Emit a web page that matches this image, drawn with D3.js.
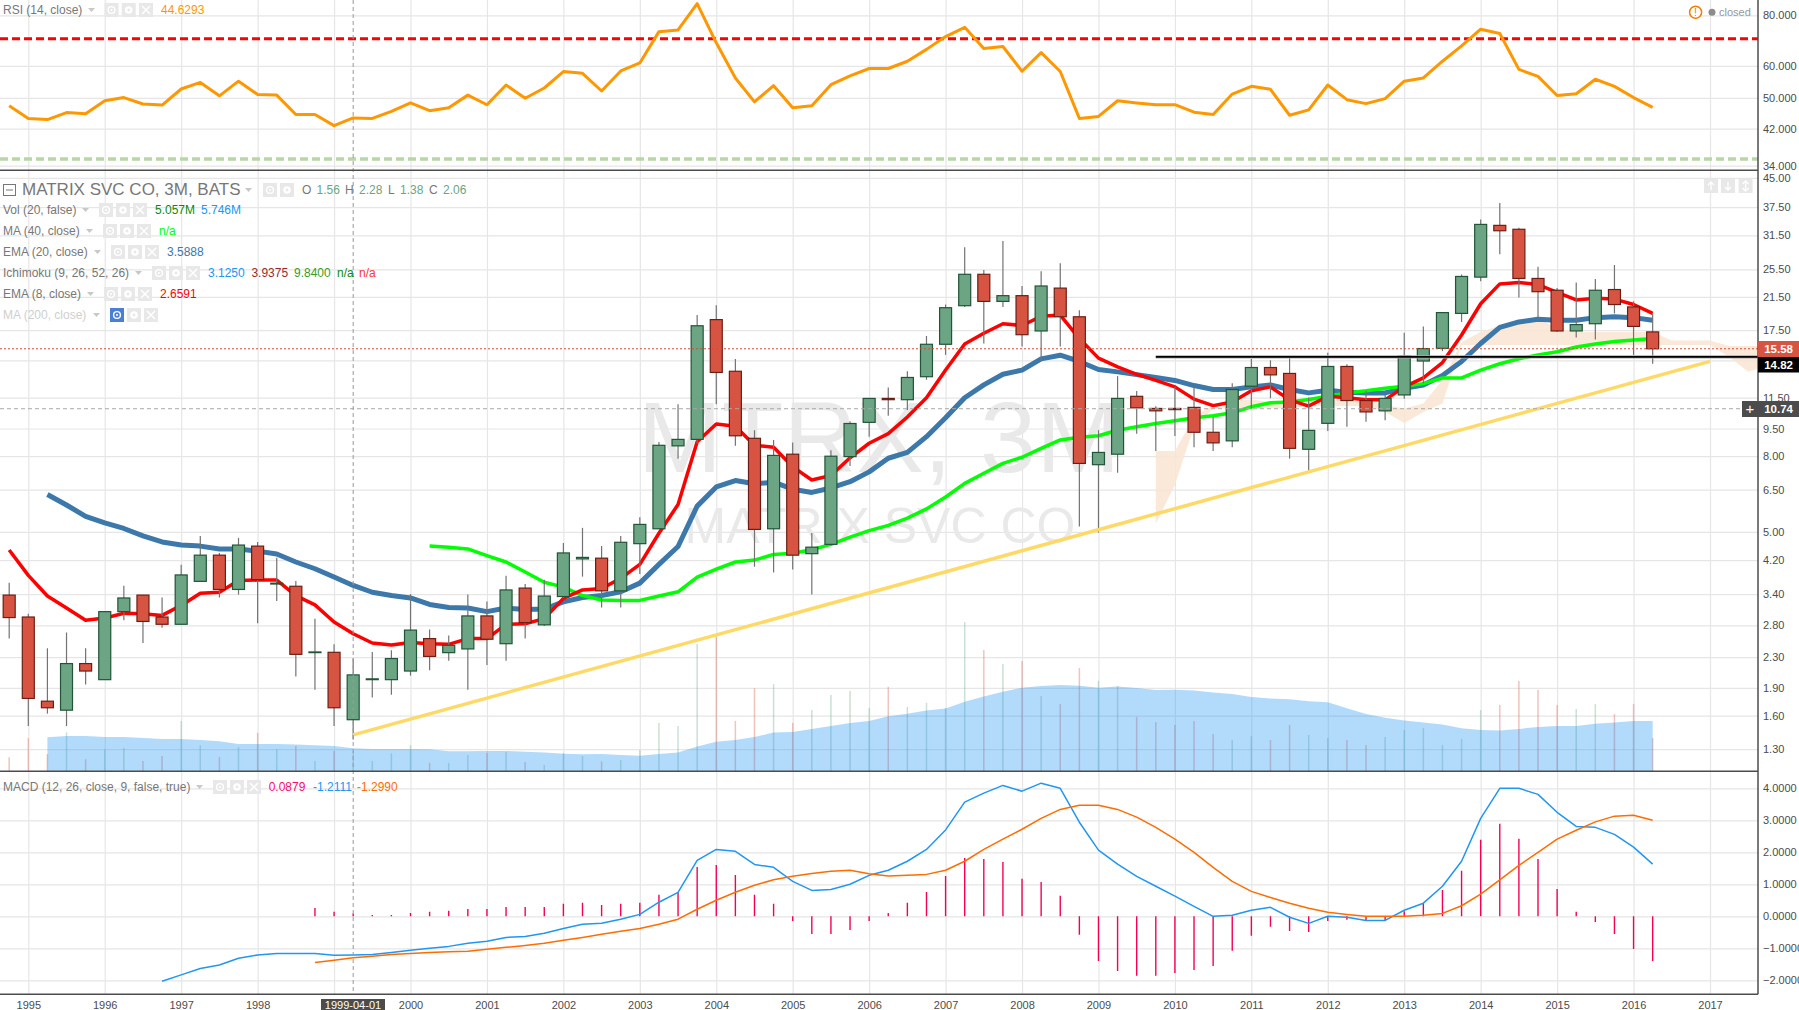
<!DOCTYPE html>
<html>
<head>
<meta charset="utf-8">
<title>MTRX 3M</title>
<script src="https://cdn.jsdelivr.net/npm/d3@7"></script>
<style>
  html, body { margin: 0; padding: 0; background: #fff; overflow: hidden; }
  text { font-family: "Liberation Sans", Arial, sans-serif; }
</style>
</head>
<body>
<svg id="chart" width="1799" height="1010"></svg>
<script>
// quarterly bars, first one is 1994 Q4
const firstQuarter = 1994.75;

const opens = [
  3.38, 2.95, 1.75, 1.655, 2.21, 2.00, 3.05, 3.38, 2.95, 2.82,
  3.68, 4.33, 3.50, 4.58, 3.62, 3.57, 2.365, 2.37, 1.56, 2.00,
  2.00, 2.11, 2.58, 2.365, 2.42, 2.97, 2.50, 3.53, 2.81, 3.35,
  4.23, 4.25, 3.47, 4.65, 5.10, 8.53, 8.88, 18.67, 13.55, 8.94,
  5.10, 8.10, 4.37, 4.63, 7.98, 9.87, 11.45, 11.36, 13.10, 16.02,
  20.35, 24.73, 20.90, 21.66, 17.40, 22.70, 19.00, 7.59, 8.10, 11.60,
  10.76, 10.76, 10.83, 9.28, 8.80, 12.35, 13.87, 13.37, 8.35, 9.81,
  13.96, 11.30, 10.60, 11.70, 14.44, 15.62, 19.40, 24.30, 33.50, 32.70,
  24.10, 22.40, 17.40, 18.20, 22.50, 20.20, 17.30
];
const highs = [
  3.65, 3.01, 2.43, 2.68, 2.43, 3.05, 3.58, 3.38, 3.33, 4.08,
  4.88, 4.39, 4.82, 4.70, 4.26, 3.69, 2.92, 2.49, 2.28, 2.375,
  2.40, 3.40, 2.73, 2.63, 3.39, 3.25, 3.81, 3.62, 3.72, 4.67,
  5.13, 4.58, 4.88, 5.48, 8.74, 11.05, 19.20, 20.40, 14.63, 9.40,
  8.85, 8.71, 4.97, 8.30, 9.93, 11.45, 12.26, 13.55, 16.87, 20.50,
  29.27, 25.40, 30.40, 23.00, 25.20, 26.50, 19.80, 9.40, 13.15, 11.98,
  10.90, 12.30, 12.35, 10.20, 12.57, 14.63, 14.50, 14.70, 11.52, 15.20,
  14.15, 11.98, 11.70, 17.20, 17.90, 19.50, 24.70, 34.76, 38.50, 33.00,
  25.90, 22.70, 23.50, 24.00, 26.20, 20.90, 19.40
];
const lows = [
  2.58, 1.50, 1.62, 1.50, 1.94, 2.00, 2.89, 2.51, 2.76, 2.82,
  3.68, 3.33, 3.39, 2.84, 3.26, 2.04, 1.88, 1.50, 1.38, 1.79,
  1.82, 2.05, 2.12, 2.25, 1.88, 2.19, 2.25, 2.58, 2.79, 3.32,
  3.79, 3.13, 3.13, 3.85, 5.10, 7.88, 8.65, 11.05, 8.53, 4.03,
  3.89, 3.96, 3.39, 4.60, 7.53, 9.03, 10.28, 10.65, 12.85, 15.00,
  20.20, 16.10, 20.20, 15.80, 14.44, 15.80, 5.17, 4.98, 7.22, 9.20,
  8.26, 9.07, 8.46, 8.26, 8.46, 10.76, 11.47, 7.88, 7.32, 9.36,
  9.60, 9.90, 10.00, 11.43, 12.57, 15.35, 18.40, 23.70, 28.00, 21.40,
  18.90, 17.30, 16.70, 16.50, 19.40, 15.00, 14.20
];
const closes = [
  2.94, 1.78, 1.68, 2.21, 2.11, 3.05, 3.32, 2.87, 2.82, 3.83,
  4.33, 3.50, 4.61, 3.72, 3.64, 2.34, 2.375, 1.68, 2.06, 2.01,
  2.28, 2.72, 2.31, 2.475, 2.97, 2.57, 3.49, 2.85, 3.36, 4.39,
  4.27, 3.47, 4.69, 5.24, 8.56, 8.88, 17.97, 13.45, 9.08, 5.08,
  8.04, 4.33, 4.55, 8.00, 9.80, 11.45, 11.36, 13.04, 16.02, 20.10,
  24.73, 20.90, 21.66, 17.00, 23.00, 19.00, 7.65, 8.19, 11.45, 10.80,
  10.60, 10.68, 9.28, 8.69, 12.10, 13.87, 13.25, 8.40, 9.39, 13.96,
  11.30, 10.53, 11.45, 14.90, 15.60, 19.50, 24.40, 33.70, 32.40, 24.10,
  22.20, 17.40, 18.10, 22.40, 20.50, 17.90, 15.58
];

// volume in millions
const volumes = [
  3.5, 8.3, 4.3, 9.75, 3.0, 5.5, 5.8, 2.6, 3.8, 12.6,
  6.5, 3.6, 6.1, 9.6, 5.5, 6.3, 2.6, 5.1, 5.057, 2.6,
  4.5, 6.5, 2.1, 2.1, 4.1, 4.6, 4.8, 2.3, 1.6, 4.6,
  3.8, 2.5, 2.8, 5.3, 12.1, 11.3, 31.8, 33.7, 12.6, 20.8,
  21.8, 12.1, 15.3, 19.1, 20.1, 15.8, 21.1, 16.1, 17.1, 15.8,
  37.3, 30.3, 26.8, 27.6, 18.8, 16.8, 25.8, 22.6, 21.3, 13.6,
  12.3, 11.6, 12.6, 9.3, 7.8, 8.8, 7.8, 11.6, 9.1, 8.3,
  7.8, 6.6, 8.6, 10.3, 10.8, 6.6, 8.1, 15.3, 16.6, 22.6,
  20.3, 16.6, 15.6, 16.8, 14.3, 16.8, 8.3
];
const volMaStart = 2;
const volMa = [
  8.5, 8.8, 8.8, 8.6, 8.6, 8.3, 8.1, 8.1, 7.8, 7.5,
  6.8, 6.8, 6.8, 6.7, 6.5, 6.3, 5.746, 5.6, 5.6, 5.6,
  5.5, 5.0, 5.0, 5.1, 5.1, 4.9, 4.7, 4.4, 4.25, 4.3,
  4.1, 3.9, 4.3, 4.7, 6.2, 7.4, 7.8, 8.6, 9.7, 9.8,
  10.6, 11.3, 12.1, 12.6, 13.75, 14.4, 15.2, 15.7, 17.4, 18.7,
  19.9, 20.9, 21.3, 21.6, 21.4, 20.9, 21.2, 20.8, 20.3, 20.4,
  20.2, 19.7, 19.3, 18.6, 18.2, 18.0, 17.5, 17.25, 15.75, 14.3,
  13.4, 12.7, 12.2, 11.7, 10.75, 10.3, 10.2, 10.6, 11.1, 11.3,
  11.3, 11.9, 12.2, 12.6, 12.6
];

const ema8 = [
  4.47, 3.82, 3.36, 3.12, 2.89, 2.93, 3.02, 3.01, 2.98, 3.17,
  3.42, 3.44, 3.70, 3.71, 3.71, 3.37, 3.18, 2.86, 2.6591, 2.51,
  2.48, 2.52, 2.50, 2.49, 2.58, 2.58, 2.82, 2.83, 2.92, 3.31,
  3.49, 3.52, 3.75, 4.09, 4.96, 5.93, 8.75, 9.77, 9.63, 8.56,
  8.46, 7.49, 6.90, 7.10, 7.92, 8.67, 9.20, 10.2, 11.5, 13.65,
  16.05, 17.15, 18.2, 18.0, 19.05, 19.2, 16.6, 14.7, 13.93, 13.3,
  12.8, 12.3, 11.4, 10.95, 11.2, 12.0, 12.3, 11.35, 10.92, 11.6,
  11.5, 11.35, 11.35, 12.3, 13.0, 14.3, 16.97, 20.6, 23.3, 23.5,
  23.2, 22.1, 21.1, 21.3, 21.2, 20.5, 19.4
];
const ema20Start = 2;
const ema20 = [
  6.31, 5.91, 5.51, 5.29, 5.11, 4.88, 4.70, 4.61, 4.58, 4.50,
  4.50, 4.44, 4.36, 4.15, 3.98, 3.78, 3.5888, 3.44, 3.37, 3.32,
  3.19, 3.13, 3.12, 3.05, 3.12, 3.09, 3.10, 3.24, 3.33, 3.37,
  3.45, 3.64, 4.09, 4.57, 5.87, 6.61, 6.88, 6.74, 6.81, 6.52,
  6.39, 6.57, 6.83, 7.26, 7.90, 8.19, 9.03, 10.15, 11.5, 12.45,
  13.3, 13.65, 14.63, 14.97, 14.4, 13.7, 13.5, 13.27, 13.04, 12.8,
  12.4, 12.1, 12.1, 12.3, 12.45, 12.1, 11.85, 12.05, 11.9, 11.85,
  11.85, 12.2, 12.45, 13.2, 14.4, 16.1, 17.8, 18.4, 18.7, 18.6,
  18.6, 18.9, 19.0, 18.9, 18.6
];
const ma40Start = 22;
const ma40 = [
  4.58, 4.55, 4.50, 4.32, 4.15, 3.90, 3.66, 3.55, 3.37, 3.28,
  3.27, 3.27, 3.36, 3.45, 3.78, 3.97, 4.15, 4.20, 4.35, 4.38,
  4.48, 4.63, 4.84, 5.04, 5.21, 5.45, 5.77, 6.21, 6.76, 7.20,
  7.65, 7.95, 8.40, 8.85, 9.00, 9.08, 9.40, 9.60, 9.80, 9.97,
  10.15, 10.28, 10.47, 10.87, 11.15, 11.2, 11.38, 11.6, 11.85, 12.0,
  12.2, 12.35, 12.55, 13.0, 13.0, 13.65, 14.2, 14.65, 15.0, 15.3,
  15.75, 16.05, 16.3, 16.45, 16.6
];

// ichimoku cloud edges, shifted forward past the last bar
const cloudStart = 60;
const cloudTop = [
  8.26, 8.26, 10.22, 11.0, 11.38, 11.38, 11.2, 11.28, 11.28, 11.33,
  11.33, 11.33, 10.99, 10.75, 11.1, 12.83, 16.25, 17.3, 18.0, 18.5,
  18.8, 17.7, 17.3, 17.3, 17.3, 17.3, 17.3, 16.4, 16.4, 16.4,
  15.85, 15.85, 15.85
];
const cloudBottom = [
  5.27, 6.69, 9.6, 10.75, 10.75, 10.82, 10.75, 10.8, 10.9, 10.93,
  10.93, 10.93, 10.53, 9.83, 10.53, 11.1, 15.95, 15.95, 15.95, 15.95,
  15.95, 15.95, 15.95, 15.95, 15.95, 15.95, 15.95, 15.95, 15.95, 15.95,
  14.8, 13.5, 14.0
];

const rsi = [
  47.8, 44.5, 44.2, 46.0, 45.7, 49.2, 50.1, 48.3, 48.0, 52.6,
  54.6, 50.6, 55.0, 51.0, 50.8, 45.5, 45.5, 42.7, 44.63, 44.5,
  46.3, 48.6, 46.5, 47.3, 50.8, 48.1, 53.8, 49.9, 52.9, 58.1,
  57.5, 52.0, 58.3, 61.0, 72.9, 73.6, 85.5, 68.4, 56.0, 48.9,
  53.6, 47.3, 47.8, 53.9, 56.7, 59.1, 59.1, 61.6, 65.9, 70.9,
  74.7, 66.2, 67.0, 58.2, 64.7, 58.1, 44.5, 45.0, 49.2, 48.6,
  48.1, 48.1, 46.1, 45.5, 51.1, 53.4, 52.5, 45.3, 46.7, 53.8,
  49.5, 48.4, 49.8, 55.0, 56.0, 61.6, 67.2, 73.9, 72.1, 58.8,
  56.5, 50.7, 51.2, 55.6, 53.4, 50.1, 47.4
];

const macdStart = 8;
const macdLine = [
  -2.03, -1.83, -1.63, -1.52, -1.31, -1.21, -1.16, -1.16, -1.16, -1.22,
  -1.2111, -1.19, -1.13, -1.06, -1.00, -0.94, -0.84, -0.78, -0.66, -0.63,
  -0.53, -0.38, -0.25, -0.22, -0.09, 0.06, 0.44, 0.75, 1.75, 2.09,
  2.03, 1.62, 1.53, 1.09, 0.81, 0.84, 1.00, 1.28, 1.44, 1.72,
  2.09, 2.70, 3.57, 3.85, 4.09, 3.91, 4.16, 4.00, 2.94, 2.07,
  1.63, 1.25, 0.94, 0.63, 0.31, 0.00, 0.03, 0.19, 0.28, -0.03,
  -0.22, 0.00, -0.03, -0.13, -0.13, 0.19, 0.41, 0.94, 1.72, 3.06,
  4.00, 4.00, 3.81, 3.25, 2.81, 2.78, 2.56, 2.16, 1.63
];
const signalStart = 16;
const signalLine = [
  -1.44, -1.375, -1.299, -1.25, -1.19, -1.16, -1.13, -1.11, -1.09, -1.03,
  -0.97, -0.91, -0.84, -0.75, -0.66, -0.56, -0.47, -0.38, -0.25, -0.09,
  0.22, 0.50, 0.75, 0.97, 1.14, 1.25, 1.34, 1.41, 1.44, 1.33,
  1.26, 1.28, 1.31, 1.44, 1.72, 2.09, 2.41, 2.72, 3.06, 3.34,
  3.47, 3.47, 3.34, 3.10, 2.78, 2.41, 2.00, 1.53, 1.09, 0.78,
  0.59, 0.41, 0.25, 0.125, 0.06, 0.00, 0.00, 0.00, 0.03, 0.09,
  0.33, 0.69, 1.14, 1.59, 2.00, 2.41, 2.69, 2.95, 3.13, 3.16,
  3.00
];
const histogram = [
  0.26, 0.14, 0.0879, 0.04, 0.04, 0.10, 0.14, 0.17, 0.23, 0.23,
  0.29, 0.29, 0.29, 0.39, 0.42, 0.35, 0.39, 0.42, 0.67, 0.76,
  1.54, 1.60, 1.29, 0.67, 0.39, -0.15, -0.55, -0.55, -0.43, -0.15,
  0.10, 0.42, 0.76, 1.26, 1.82, 1.79, 1.70, 1.17, 1.07, 0.64,
  -0.58, -1.40, -1.71, -1.86, -1.86, -1.77, -1.68, -1.55, -1.08, -0.61,
  -0.33, -0.46, -0.49, -0.15, -0.11, -0.13, -0.13, 0.16, 0.41, 0.82,
  1.42, 2.39, 2.89, 2.42, 1.79, 0.85, 0.14, -0.18, -0.55, -1.02,
  -1.40
];

const yearTicks = d3.range(1995, 2018);
const priceTicks = [45, 37.5, 31.5, 25.5, 21.5, 17.5, 14.5, 11.5, 9.5, 8, 6.5, 5, 4.2, 3.4, 2.8, 2.3, 1.9, 1.6, 1.3];
const rsiTicks = [80, 60, 50, 42, 34];
const macdTicks = [4, 3, 2, 1, 0, -1, -2];

// drawn lines on the chart
const rsiLevels = [70, 35.3];
const lastPrice = 15.58;
const crossPrice = 10.74;
const crossTime = 1999.25;
const supportLine = { from: 2009.75, price: 14.82 };
const trendLine = [{ t: 1999.25, p: 1.42 }, { t: 2017, p: 14.41 }];

const colUp = '#6ba583', colDown = '#d75442', colUpDark = '#225437', colDownDark = '#6d1e14';
const grid = '#e6e6e6', axisCol = '#4c4c4c', textCol = '#777';

const paneRight = 1758, rsiBottom = 170.3, priceBottom = 771.3, macdBottom = 994.3;

const x = d3.scaleLinear().domain([1995, 2017]).range([28.3, 1710]);
const yPrice = d3.scaleLog().domain([45, 1.3]).range([177.8, 749.1]);
const yRsi = d3.scaleLog().domain([80, 34]).range([15.3, 165.7]);
const yVol = d3.scaleLinear().domain([0, 50]).range([priceBottom, priceBottom - 200]);
const yMacd = d3.scaleLinear().domain([4, -2]).range([788.3, 980.3]);

const timeOf = i => firstQuarter + i * 0.25;

const svg = d3.select('#chart');
svg.append('defs').append('clipPath').attr('id', 'plot')
  .append('rect').attr('width', paneRight).attr('height', macdBottom);

function drawAxis(axis, tx, ty) {
  const g = svg.append('g').attr('transform', `translate(${tx},${ty})`).call(axis);
  g.select('.domain').remove();
  g.selectAll('line').attr('stroke', grid).attr('stroke-width', 1.2);
  g.selectAll('text').attr('fill', axisCol).attr('font-size', 11).attr('font-family', null);
  return g;
}

// grid and tick labels come from the axes
// 1999 and 14.50 sit under the crosshair date and the 14.82 label, only their grid lines show
drawAxis(d3.axisBottom(x).tickValues(yearTicks).tickFormat(d => d == 1999 ? '' : d3.format('d')(d)).tickSize(-macdBottom).tickPadding(7), 0, macdBottom);
drawAxis(d3.axisRight(yRsi).tickValues(rsiTicks).tickFormat(d3.format('.3f')).tickSize(-paneRight).tickPadding(5), paneRight, 0);
drawAxis(d3.axisRight(yPrice).tickValues(priceTicks).tickFormat(d => d == 14.5 ? '' : d3.format('.2f')(d)).tickSize(-paneRight).tickPadding(5), paneRight, 0);
drawAxis(d3.axisRight(yMacd).tickValues(macdTicks).tickFormat(d3.format('.4f')).tickSize(-paneRight).tickPadding(5), paneRight, 0);

// watermark
svg.append('text').attr('x', 879).attr('y', 472).attr('text-anchor', 'middle')
  .attr('font-size', 101).attr('fill', '#e9e9e9').text('MTRX, 3M');
svg.append('text').attr('x', 880).attr('y', 543).attr('text-anchor', 'middle')
  .attr('font-size', 50).attr('fill', '#e9e9e9').text('MATRIX SVC CO');

const plot = svg.append('g').attr('clip-path', 'url(#plot)');

// ichimoku cloud
const cloudArea = d3.area()
  .x((d, i) => x(timeOf(cloudStart + i)))
  .y0((d, i) => yPrice(cloudBottom[i]))
  .y1(d => yPrice(d));
plot.append('path').datum(cloudTop).attr('d', cloudArea).attr('fill', '#f9e5d2').attr('opacity', 0.85);

// volume bars and their average
plot.selectAll('.vol').data(volumes).enter().append('line').attr('class', 'vol')
  .attr('x1', (d, i) => x(timeOf(i))).attr('x2', (d, i) => x(timeOf(i)))
  .attr('y1', priceBottom).attr('y2', d => yVol(d))
  .attr('stroke', (d, i) => closes[i] >= opens[i] ? colUp : colDown)
  .attr('stroke-opacity', 0.35).attr('stroke-width', 1.5);

const volArea = d3.area()
  .x((d, i) => x(timeOf(volMaStart + i)))
  .y0(priceBottom).y1(d => yVol(d));
plot.append('path').datum(volMa).attr('d', volArea).attr('fill', '#2196f3').attr('fill-opacity', 0.35);

function drawLine(values, start, scale, color, width, parent) {
  const line = d3.line().x((d, i) => x(timeOf(start + i))).y(d => scale(d));
  return (parent || plot).append('path').datum(values).attr('d', line)
    .attr('fill', 'none').attr('stroke', color).attr('stroke-width', width).attr('stroke-linejoin', 'round');
}

drawLine(ema20, ema20Start, yPrice, '#3c78aa', 5);
drawLine(ma40, ma40Start, yPrice, '#00ff00', 3.5);
drawLine(ema8, 0, yPrice, '#ff0000', 3.5);

// candles
const candles = plot.selectAll('.candle').data(d3.range(opens.length)).enter().append('g').attr('class', 'candle');
candles.append('line')
  .attr('x1', i => x(timeOf(i))).attr('x2', i => x(timeOf(i)))
  .attr('y1', i => yPrice(highs[i])).attr('y2', i => yPrice(lows[i]))
  .attr('stroke', '#737373').attr('stroke-width', 1.2);
candles.append('rect')
  .attr('x', i => x(timeOf(i)) - 6).attr('width', 12)
  .attr('y', i => yPrice(Math.max(opens[i], closes[i])))
  .attr('height', i => Math.abs(yPrice(opens[i]) - yPrice(closes[i])))
  .attr('fill', i => closes[i] >= opens[i] ? colUp : colDown)
  .attr('stroke', i => closes[i] >= opens[i] ? colUpDark : colDownDark)
  .attr('stroke-width', 1.2);

// hand drawn trend lines
const trend = d3.line().x(d => x(d.t)).y(d => yPrice(d.p));
plot.append('path').datum(trendLine).attr('d', trend).attr('fill', 'none').attr('stroke', '#ffd966').attr('stroke-width', 3.5);
[[3.2, '#aaa'], [1.8, '#000']].forEach(s => {
  plot.append('line')
    .attr('x1', x(supportLine.from)).attr('x2', paneRight)
    .attr('y1', yPrice(supportLine.price)).attr('y2', yPrice(supportLine.price))
    .attr('stroke', s[1]).attr('stroke-width', s[0]);
});

// RSI pane
rsiLevels.forEach((lvl, i) => {
  plot.append('line').attr('x1', 0).attr('x2', paneRight).attr('y1', yRsi(lvl)).attr('y2', yRsi(lvl))
    .attr('stroke', i == 0 ? '#ff0000' : '#b7d7a8').attr('stroke-width', i == 0 ? 3 : 3.5).attr('stroke-dasharray', '8,4');
});
drawLine(rsi, 0, yRsi, '#ff9800', 3);

// MACD pane
plot.selectAll('.hist').data(histogram).enter().append('line').attr('class', 'hist')
  .attr('x1', (d, i) => x(timeOf(signalStart + i))).attr('x2', (d, i) => x(timeOf(signalStart + i)))
  .attr('y1', yMacd(0)).attr('y2', d => yMacd(d))
  .attr('stroke', '#f50057').attr('stroke-width', 1.4);
drawLine(macdLine, macdStart, yMacd, '#2196f3', 1.5);
drawLine(signalLine, signalStart, yMacd, '#ff6d00', 1.5);

// last price and crosshair
svg.append('line').attr('x1', 0).attr('x2', paneRight).attr('y1', yPrice(lastPrice)).attr('y2', yPrice(lastPrice))
  .attr('stroke', '#d84a38').attr('stroke-dasharray', '2,2');
svg.append('line').attr('x1', 0).attr('x2', paneRight).attr('y1', yPrice(crossPrice)).attr('y2', yPrice(crossPrice))
  .attr('stroke', '#aaa').attr('stroke-dasharray', '4,3');
svg.append('line').attr('x1', x(crossTime)).attr('x2', x(crossTime)).attr('y1', 0).attr('y2', macdBottom)
  .attr('stroke', '#999').attr('stroke-dasharray', '4,3');

// pane borders
[rsiBottom, priceBottom, macdBottom].forEach(y => {
  svg.append('line').attr('x1', 0).attr('x2', paneRight).attr('y1', y).attr('y2', y)
    .attr('stroke', axisCol).attr('stroke-width', 1.5);
});
svg.append('line').attr('x1', paneRight).attr('x2', paneRight).attr('y1', 0).attr('y2', macdBottom)
  .attr('stroke', axisCol).attr('stroke-width', 1.5);

// price labels on the scale
function priceLabel(y0, h, color, txt) {
  svg.append('rect').attr('x', paneRight).attr('y', y0).attr('width', 41).attr('height', h).attr('fill', color);
  svg.append('text').attr('x', 1793).attr('y', y0 + h / 2 + 4).attr('text-anchor', 'end')
    .attr('font-size', 11.5).attr('font-weight', 'bold').attr('fill', '#fff').text(txt);
}
priceLabel(341, 16, colDown, '15.58');
priceLabel(357, 15.5, '#000', '14.82');
priceLabel(401, 16, axisCol, '10.74');
svg.append('rect').attr('x', 1742).attr('y', 401).attr('width', 16).attr('height', 16).attr('fill', axisCol);
svg.append('text').attr('x', 1750).attr('y', 414).attr('text-anchor', 'middle').attr('font-size', 15).attr('fill', '#fff').text('+');

// date label under the crosshair
svg.append('rect').attr('x', 321).attr('y', 999).attr('width', 64).attr('height', 11).attr('fill', axisCol);
svg.append('text').attr('x', 353).attr('y', 1008.5).attr('text-anchor', 'middle').attr('font-size', 11).attr('fill', '#fff').text('1999-04-01');

// small legend buttons: eye, gear, cross
function drawButtons(xs, y0, size, active) {
  xs.forEach((bx, n) => {
    svg.append('rect').attr('x', bx).attr('y', y0).attr('width', size).attr('height', size)
      .attr('fill', active && n == 0 ? '#4a7fd6' : '#e8e8e8');
    const cx = bx + size / 2, cy = y0 + size / 2;
    if (n == 0) {
      svg.append('circle').attr('cx', cx).attr('cy', cy).attr('r', 3.4).attr('fill', 'none').attr('stroke', '#fff').attr('stroke-width', 1.4);
      svg.append('circle').attr('cx', cx).attr('cy', cy).attr('r', 1).attr('fill', '#fff');
    } else if (n == 1) {
      svg.append('circle').attr('cx', cx).attr('cy', cy).attr('r', 2.6).attr('fill', 'none').attr('stroke', '#fff').attr('stroke-width', 2.4);
    } else {
      svg.append('path').attr('d', `M${cx - 4},${cy - 4}L${cx + 4},${cy + 4}M${cx + 4},${cy - 4}L${cx - 4},${cy + 4}`)
        .attr('stroke', '#fff').attr('stroke-width', 1.5);
    }
  });
}

function legendText(tx, y, txt, color, size) {
  return svg.append('text').attr('x', tx).attr('y', y + 4).attr('font-size', size || 12).attr('fill', color).text(txt);
}

function caret(tx, y) {
  svg.append('path').attr('d', `M${tx},${y - 2}h7l-3.5,4z`).attr('fill', '#c8c8c8');
}

const legendRows = [
  { label: 'RSI (14, close)', y: 10, caret: 88, btn: [104.5, 121.7, 139], vals: [[161, '44.6293', '#ff9800']] },
  { label: 'Vol (20, false)', y: 210, caret: 82, btn: [99, 116, 133], vals: [[155, '5.057M', '#0b8a0b'], [201, '5.746M', '#2196f3']] },
  { label: 'MA (40, close)', y: 231, caret: 86, btn: [103, 120, 137], vals: [[159, 'n/a', '#00ff00']] },
  { label: 'EMA (20, close)', y: 252, caret: 94, btn: [111, 128, 145], vals: [[167, '3.5888', '#3c78aa']] },
  { label: 'Ichimoku (9, 26, 52, 26)', y: 273, caret: 135, btn: [152, 169, 186],
    vals: [[208, '3.1250', '#2196f3'], [251.4, '3.9375', '#992b2b'], [294, '9.8400', '#3d9b1c'], [337, 'n/a', '#0b8a0b'], [359, 'n/a', '#ff3333']] },
  { label: 'EMA (8, close)', y: 294, caret: 87, btn: [104, 121, 138], vals: [[160, '2.6591', '#ff0000']] },
  { label: 'MA (200, close)', y: 315, caret: 93, btn: [110, 127, 144], faded: true, vals: [] },
  { label: 'MACD (12, 26, close, 9, false, true)', y: 787, caret: 196, btn: [213, 230, 247],
    vals: [[268.7, '0.0879', '#ff0a6c'], [313, '-1.2111', '#2196f3'], [357, '-1.2990', '#ff6d00']] }
];
legendRows.forEach(r => {
  legendText(3, r.y, r.label, r.faded ? '#cfcfcf' : textCol);
  caret(r.caret, r.y);
  drawButtons(r.btn, r.y - 7, 14, r.faded);
  r.vals.forEach(v => legendText(v[0], r.y, v[1], v[2]));
});

// main title row
svg.append('rect').attr('x', 3.5).attr('y', 184.5).attr('width', 12).attr('height', 11).attr('fill', 'none').attr('stroke', textCol);
svg.append('line').attr('x1', 6).attr('x2', 13).attr('y1', 190).attr('y2', 190).attr('stroke', textCol);
svg.append('text').attr('x', 22).attr('y', 195).attr('font-size', 17).attr('fill', textCol).text('MATRIX SVC CO, 3M, BATS');
caret(245, 190);
drawButtons([263, 280], 183, 14);
[[302, 'O', textCol], [316.5, '1.56', colUp], [345, 'H', textCol], [359, '2.28', colUp],
 [388, 'L', textCol], [400, '1.38', colUp], [429, 'C', textCol], [443, '2.06', colUp]].forEach(d => legendText(d[0], 190, d[1], d[2]));

// scale buttons, top right of the price pane
[1704, 1721, 1738.6].forEach((bx, n) => {
  svg.append('rect').attr('x', bx).attr('y', 179).attr('width', 14).attr('height', 14).attr('fill', '#e8e8e8');
  const cx = bx + 7;
  const d = [`M${cx},182v8M${cx - 3},185l3,-3l3,3`, `M${cx},182v8M${cx - 3},187l3,3l3,-3`, `M${cx},181v10M${cx - 3},184l3,-3l3,3M${cx - 3},188l3,3l3,-3`][n];
  svg.append('path').attr('d', d).attr('fill', 'none').attr('stroke', '#fff').attr('stroke-width', 1.3);
});

// market status
svg.append('circle').attr('cx', 1695.6).attr('cy', 12.3).attr('r', 6).attr('fill', '#fff').attr('stroke', '#f57c00').attr('stroke-width', 1.5);
svg.append('text').attr('x', 1695.6).attr('y', 16.3).attr('text-anchor', 'middle').attr('font-size', 11).attr('fill', '#f57c00').text('!');
svg.append('circle').attr('cx', 1712).attr('cy', 12.3).attr('r', 3.5).attr('fill', '#8c8c8c');
svg.append('text').attr('x', 1719).attr('y', 16).attr('font-size', 11).attr('fill', '#999').text('closed');
</script>
</body>
</html>
